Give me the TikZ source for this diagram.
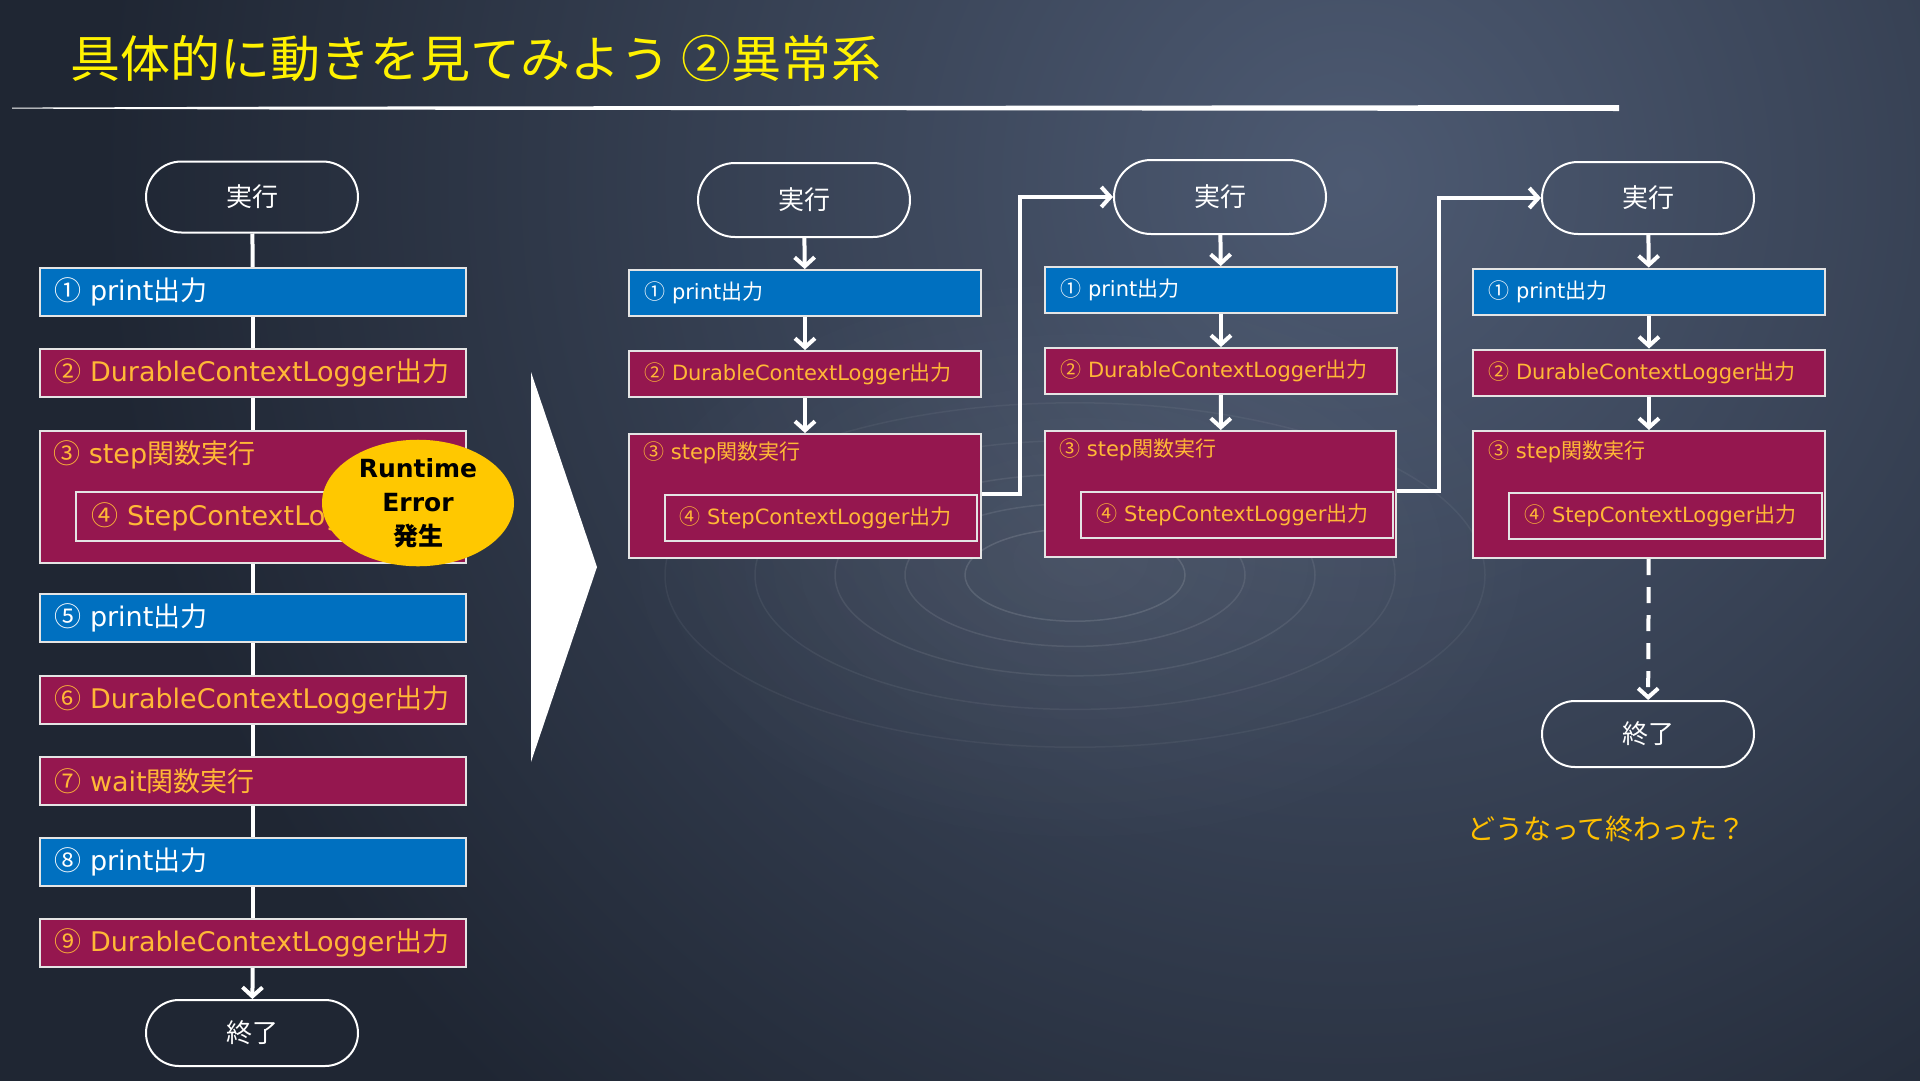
\documentclass[tikz,border=0pt]{standalone}
\usepackage{fontspec}
\setmainfont{DejaVu Sans}
\newfontfamily\cjk{Noto Sans CJK JP}
\usetikzlibrary{arrows.meta,shapes.misc,shapes.geometric,calc,fadings}
\tikzfading[name=softglow, inner color=transparent!0, outer color=transparent!100]
\newcommand\J[1]{{\cjk #1}}
\definecolor{bgdark}{HTML}{1F2633}
\definecolor{bglight}{HTML}{4D5A72}
\definecolor{bluebox}{HTML}{0070C0}
\definecolor{crim}{HTML}{95174F}
\definecolor{amber}{HTML}{FFB836}
\definecolor{gold}{HTML}{FFC000}
\definecolor{errY}{HTML}{FFC800}
\definecolor{titleY}{HTML}{FFF200}
\definecolor{boxline}{HTML}{E4E4E4}
\begin{document}
\begin{tikzpicture}[x=1pt,y=-1pt,
  every node/.style={inner sep=0pt},
  fL/.style={font=\fontsize{27}{32}\selectfont},
  fS/.style={font=\fontsize{21}{25}\selectfont},
  boxbase/.style={rectangle, draw=boxline, line width=2pt, align=left, anchor=west, inner ysep=0pt},
  pbox/.style={boxbase, fill=bluebox, text=white},
  cbox/.style={boxbase, fill=crim, text=amber},
  bigL/.style={inner xsep=14pt, text width=398pt, minimum height=48pt, fL},
  bigS/.style={inner xsep=15pt, text width=322pt, minimum height=46pt, fS},
  outer3/.style={rectangle, draw=boxline, line width=2pt, fill=crim, anchor=north west},
  ttl/.style={anchor=west, text=amber},
  oval/.style={rounded rectangle, draw=white, line width=2pt, text=white, font=\cjk\fontsize{26}{30}\selectfont, minimum width=212pt, minimum height=72pt},
  conn/.style={draw=white, line width=4pt},
  arr/.style={conn, -{Straight Barb[length=9pt,width=20pt]}},
]
\useasboundingbox (0,0) rectangle (1920,1080);
% background
\begin{scope}
\clip (-20,-20) rectangle (1940,1100);
\fill[bgdark] (-20,-20) rectangle (1940,1100);
\shade[inner color=bglight, outer color=bgdark] (1350,180) circle[radius=1250];
\fill[white, opacity=0.07, path fading=softglow] (1080,560) ellipse[x radius=480, y radius=300];
\foreach \r/\o in {110/0.12,170/0.09,240/0.08,320/0.06,410/0.05}
  \draw[white, opacity=\o, line width=1.5pt] (1075,575) ellipse[x radius=\r, y radius=0.42*\r];
\end{scope}
% title
\node[anchor=west, text=titleY, font=\cjk\fontsize{50}{55}\selectfont] (title) at (70,58) {具体的に動きを見てみよう ②異常系};
\fill[white] (12,107.6) -- (300,106.6) -- (1619,105) -- (1619,111) -- (300,109.6) -- (12,108.6) -- cycle;

% ---------------- left column ----------------
\node[oval, minimum height=71pt] (Ls) at (252,197) {実行};
\node[pbox,bigL] (L1) at (39,292) {\mbox{\J{①} print\J{出力}}};
\node[cbox,bigL] (L2) at (39,373) {\mbox{\J{②} DurableContextLogger\J{出力}}};
\node[outer3, minimum width=426pt, minimum height=132pt] (L3) at (39,430) {};
\node[ttl,fL] (L3t) at (53,455) {\J{③} step\J{関数実行}};
\node[cbox,fL, inner xsep=15pt, text width=356pt, minimum height=49pt] (L4) at (75,516.5) {\mbox{\J{④} StepContextLogger\J{出力}}};
\node[ellipse, fill=errY, minimum width=192pt, minimum height=108pt, align=center, text=black, font=\bfseries\fontsize{25}{34}\selectfont] (err) at (418,503) {Runtime\\Error\\{\cjk\bfseries 発生}};
\node[pbox,bigL] (L5) at (39,618) {\mbox{\J{⑤} print\J{出力}}};
\node[cbox,bigL] (L6) at (39,700) {\mbox{\J{⑥} DurableContextLogger\J{出力}}};
\node[cbox,bigL] (L7) at (39,781) {\mbox{\J{⑦} wait\J{関数実行}}};
\node[pbox,bigL] (L8) at (39,862) {\mbox{\J{⑧} print\J{出力}}};
\node[cbox,bigL] (L9) at (39,943) {\mbox{\J{⑨} DurableContextLogger\J{出力}}};
\node[oval, minimum height=66pt] (Le) at (252,1033) {終了};
\draw[conn] (Ls) -- (L1);
\draw[conn] (L1) -- (L2);
\draw[conn] (L2) -- (L3);
\draw[conn] (L3) -- (L5);
\draw[conn] (L5) -- (L6);
\draw[conn] (L6) -- (L7);
\draw[conn] (L7) -- (L8);
\draw[conn] (L8) -- (L9);
\draw[arr] (L9) -- (Le);

% big triangle
\fill[white] (531,372) -- (597,567) -- (531,762) -- cycle;

% ---------------- column A ----------------
\node[oval, minimum height=74pt] (As) at (804,200) {実行};
\node[pbox,bigS] (A1) at (628,293) {\mbox{\J{①} print\J{出力}}};
\node[cbox,bigS] (A2) at (628,374) {\mbox{\J{②} DurableContextLogger\J{出力}}};
\node[outer3, minimum width=352pt, minimum height=124pt] (A3) at (628,433) {};
\node[ttl,fS] (A3t) at (643,453) {\J{③} step\J{関数実行}};
\node[cbox,fS, inner xsep=14pt, text width=284pt, minimum height=46pt] (A4) at (664,518) {\mbox{\J{④} StepContextLogger\J{出力}}};
\draw[arr] (As) -- (A1);
\draw[arr] (A1) -- (A2);
\draw[arr] (A2) -- (A3);

% ---------------- column B ----------------
\node[oval, minimum height=74pt] (Bs) at (1220,197) {実行};
\node[pbox,bigS] (B1) at (1044,290) {\mbox{\J{①} print\J{出力}}};
\node[cbox,bigS] (B2) at (1044,371) {\mbox{\J{②} DurableContextLogger\J{出力}}};
\node[outer3, minimum width=351pt, minimum height=126pt] (B3) at (1044,430) {};
\node[ttl,fS] (B3t) at (1059,450) {\J{③} step\J{関数実行}};
\node[cbox,fS, inner xsep=15pt, text width=282pt, minimum height=46pt] (B4) at (1080,515) {\mbox{\J{④} StepContextLogger\J{出力}}};
\draw[arr] (Bs) -- (B1);
\draw[arr] (B1) -- (B2);
\draw[arr] (B2) -- (B3);

% ---------------- column C ----------------
\node[oval, minimum height=72pt] (Cs) at (1648,198) {実行};
\node[pbox,bigS] (C1) at (1472,291.5) {\mbox{\J{①} print\J{出力}}};
\node[cbox,bigS] (C2) at (1472,372.5) {\mbox{\J{②} DurableContextLogger\J{出力}}};
\node[outer3, minimum width=352pt, minimum height=127pt] (C3) at (1472,430) {};
\node[ttl,fS] (C3t) at (1488,452) {\J{③} step\J{関数実行}};
\node[cbox,fS, inner xsep=15pt, text width=283pt, minimum height=46pt] (C4) at (1508,516) {\mbox{\J{④} StepContextLogger\J{出力}}};
\node[oval, minimum height=66pt] (Ce) at (1648,734) {終了};
\draw[arr] (Cs) -- (C1);
\draw[arr] (C1) -- (C2);
\draw[arr] (C2) -- (C3);
\draw[arr, dash pattern=on 16pt off 12pt] (C3) -- (Ce);

% cross-column connectors
\draw[arr] (A3.east |- A4.north) -- ++(38,0) |- (Bs.west);
\draw[arr] (B3.east |- B4.north) -- ++(42,0) |- (Cs.west);

% question
\node[anchor=west, text=gold, font=\cjk\fontsize{28}{32}\selectfont] (q) at (1467,829) {どうなって終わった？};
\end{tikzpicture}
\end{document}
